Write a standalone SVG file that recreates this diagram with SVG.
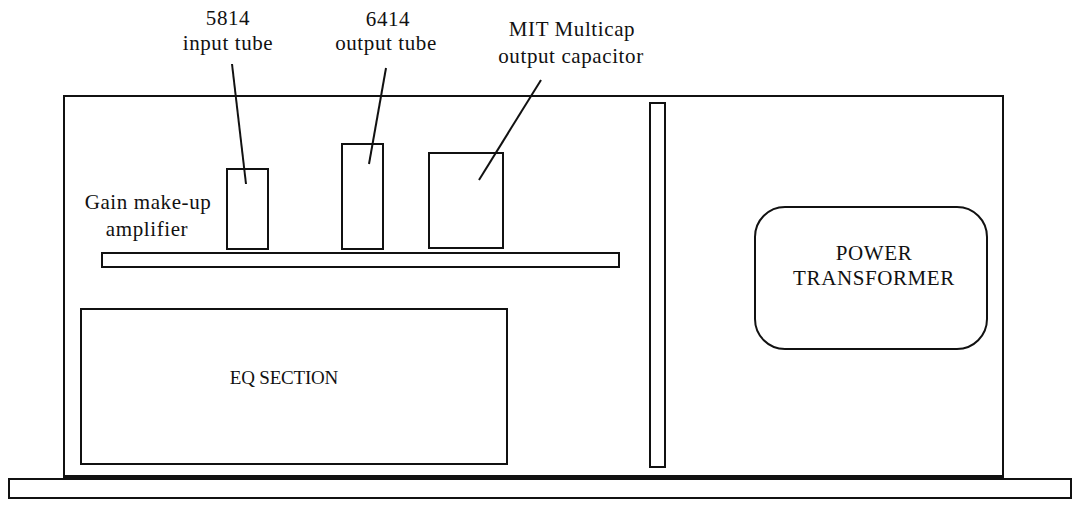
<svg xmlns="http://www.w3.org/2000/svg" width="1078" height="506" viewBox="0 0 1078 506">
<style>
.s{fill:none;stroke:#111;stroke-width:2}
.t{font-family:'Liberation Serif',serif;font-size:21px;fill:#111;text-anchor:middle;letter-spacing:0.6px}
.l{stroke:#111;stroke-width:2;fill:none}
</style>
<rect width="1078" height="506" fill="#fff"/>
<g id="base"><rect class="s" x="9" y="479" width="1062" height="19"/></g>
<g id="chassis"><path class="s" d="M64,477 V96 H1003 V477"/><line x1="63" y1="477" x2="1004" y2="477" stroke="#111" stroke-width="4"/></g>
<g id="divider"><rect class="s" x="650" y="103" width="15" height="364"/></g>
<g id="amp-board"><rect class="s" x="102" y="253" width="517" height="14"/>
<text class="t" x="148" y="209">Gain make-up</text><text class="t" x="147" y="236">amplifier</text></g>
<g id="input-tube"><rect class="s" x="227" y="169" width="41" height="80"/></g>
<g id="output-tube"><rect class="s" x="342" y="144" width="41" height="105"/></g>
<g id="capacitor"><rect class="s" x="429" y="153" width="74" height="95"/></g>
<g id="eq-section"><rect class="s" x="81" y="309" width="426" height="155"/><text class="t" x="284" y="384" style="font-size:19px;letter-spacing:-0.2px">EQ SECTION</text></g>
<g id="power-transformer"><rect class="s" x="755" y="207" width="232" height="142" rx="30" ry="30"/>
<text class="t" x="874" y="260">POWER</text><text class="t" x="874" y="285">TRANSFORMER</text></g>
<g id="labels">
<text class="t" x="228" y="25">5814</text><text class="t" x="228" y="50">input tube</text>
<text class="t" x="388" y="26">6414</text><text class="t" x="386" y="50">output tube</text>
<text class="t" x="572" y="36">MIT Multicap</text><text class="t" x="571" y="63">output capacitor</text>
</g>
<g id="connectors">
<line class="l" x1="232" y1="64" x2="246" y2="184"/>
<line class="l" x1="386" y1="68" x2="369" y2="164"/>
<line class="l" x1="541" y1="80" x2="479" y2="180"/>
</g>
</svg>
